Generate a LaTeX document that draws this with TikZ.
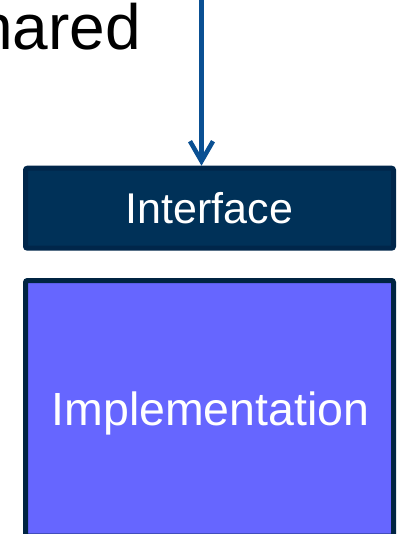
\documentclass[tikz,border=0pt]{standalone}
\usepackage{fontspec}
\setmainfont{Liberation Sans}
\usetikzlibrary{arrows.meta}
\definecolor{arrowblue}{HTML}{0A5093}
\definecolor{ifill}{HTML}{003158}
\definecolor{iborder}{HTML}{00264A}
\definecolor{implfill}{HTML}{6666FF}
\definecolor{implborder}{HTML}{002442}
\tikzset{
  box/.style={draw, line width=5pt, rounded corners=2pt, inner sep=0pt, minimum width=368pt},
}
\begin{document}
\begin{tikzpicture}[x=1pt,y=-1pt]
\useasboundingbox (0,0) rectangle (397,534);
\clip (0,0) rectangle (397,534);
\node[anchor=base east, inner sep=0pt, font=\fontsize{64}{64}\selectfont] (shared) at (141,49.3) {Shared};
\node[box, fill=ifill, draw=iborder, minimum height=80pt] (iface) at (209.5,208.2) {};
\node[anchor=base, inner sep=0pt, text=white, font=\fontsize{43}{43}\selectfont] (itext) at (209.5,224) {Interface};
\node[box, fill=implfill, draw=implborder, minimum height=255.5pt] (impl) at (209.5,408.25) {};
\node[anchor=base, inner sep=0pt, text=white, font=\fontsize{46.5}{46.5}\selectfont] (mtext) at (210.5,425) {Implementation};
\coordinate (top) at (201.5,-2);
\draw[arrowblue, line width=4.5pt, -{Straight Barb[length=20pt,width=23pt]}] (top) -- (top |- iface.north);
\end{tikzpicture}
\end{document}
